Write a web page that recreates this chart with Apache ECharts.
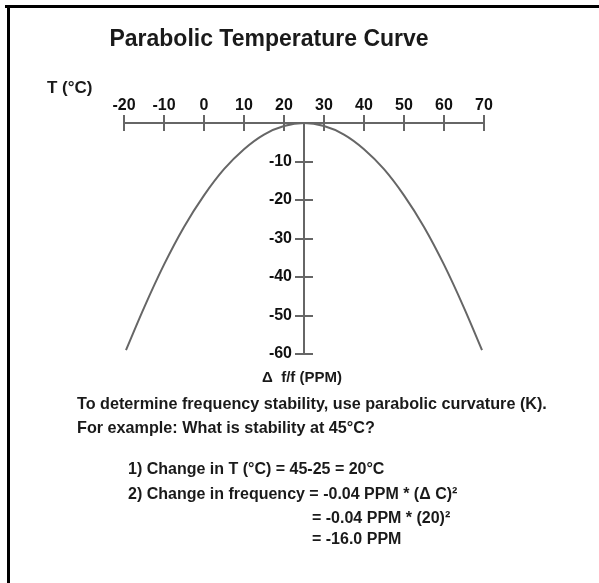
<!DOCTYPE html>
<html>
<head>
<meta charset="utf-8">
<script src="https://cdn.jsdelivr.net/npm/echarts@6/dist/echarts.min.js"></script>
<style>
  html, body { margin: 0; padding: 0; background: #fff; }
  #main { width: 599px; height: 583px; }
</style>
</head>
<body>
<div id="main"></div>
<script>
var chartDom = document.getElementById('main');
var chart = echarts.init(chartDom, null, { renderer: 'canvas' });

// Temperature (deg C) and frequency deviation (PPM)
var temps = [-19.5, -15, -10, -5, 0, 5, 10, 15, 20, 25, 30, 35, 40, 45, 50, 55, 60, 65, 69.5];
var ppm = [-59, -48, -36.8, -27, -18.8, -12, -6.8, -3, -0.8, 0, -0.8, -3, -6.8, -12, -18.8, -27, -36.8, -48, -59];

// Axis ranges / ticks
var xRange = [-20, 70];
var yRange = [-60, 0];
var tickStep = 10;

var axisGrey = '#666';
var font = '"Liberation Sans", Arial, sans-serif';

var curve = temps.map(function (t, i) { return [t, ppm[i]]; });

function xAxisOf(inside) {
    return {
        type: 'value',
        position: 'top',
        min: xRange[0], max: xRange[1], interval: tickStep,
        axisLine: { show: !inside, onZero: false, lineStyle: { color: axisGrey, width: 2 } },
        axisTick: { show: true, inside: inside, length: 8, lineStyle: { color: axisGrey, width: 2 } },
        axisLabel: {
            show: !inside, margin: 9, color: '#111',
            fontFamily: font, fontWeight: 'bold', fontSize: 16
        },
        splitLine: { show: false }
    };
}

function yAxisOf(inside) {
    return {
        type: 'value',
        position: 'left',
        offset: -180,
        min: yRange[0], max: yRange[1], interval: tickStep,
        axisLine: { show: !inside, onZero: false, lineStyle: { color: axisGrey, width: 2 } },
        axisTick: { show: true, inside: inside, length: 9, lineStyle: { color: axisGrey, width: 2 } },
        axisLabel: {
            show: !inside, margin: 12, color: '#111',
            fontFamily: font, fontWeight: 'bold', fontSize: 16,
            formatter: function (v) { return v === 0 ? '' : String(v); }
        },
        splitLine: { show: false }
    };
}

function txt(x, y, text, size, align) {
    return {
        type: 'text', x: x, y: y,
        style: {
            text: text, fill: '#1a1a1a',
            font: 'bold ' + size + 'px ' + font,
            textAlign: align || 'left', textVerticalAlign: 'middle'
        }
    };
}

var option = {
    backgroundColor: '#fff',
    animation: false,
    grid: { left: 124, right: 115, top: 123, bottom: 229 },
    xAxis: [xAxisOf(false), xAxisOf(true)],
    yAxis: [yAxisOf(false), yAxisOf(true)],
    series: [{
        type: 'line',
        data: curve,
        smooth: 0.3,
        showSymbol: false,
        lineStyle: { color: axisGrey, width: 2 }
    }],
    graphic: [
        // frame
        { type: 'line', shape: { x1: 5, y1: 6.5, x2: 599, y2: 6.5 }, style: { stroke: '#000', lineWidth: 3 } },
        { type: 'line', shape: { x1: 8.5, y1: 5, x2: 8.5, y2: 583 }, style: { stroke: '#000', lineWidth: 3 } },
        txt(269, 40, 'Parabolic Temperature Curve', 23, 'center'),
        txt(47, 88, 'T (°C)', 17),
        txt(302, 378, 'Δ  f/f (PPM)', 15, 'center'),
        txt(77, 405, 'To determine frequency stability, use parabolic curvature (K).', 16.2),
        txt(77, 429, 'For example: What is stability at 45°C?', 16.2),
        txt(128, 470, '1) Change in T (°C) = 45-25 = 20°C', 16),
        txt(128, 495, '2) Change in frequency = -0.04 PPM * (Δ C)²', 16),
        txt(312, 519, '= -0.04 PPM * (20)²', 16),
        txt(312, 540, '= -16.0 PPM', 16)
    ]
};

chart.setOption(option);
window.addEventListener('resize', function () {
    chart.resize();
});
</script>
</body>
</html>
